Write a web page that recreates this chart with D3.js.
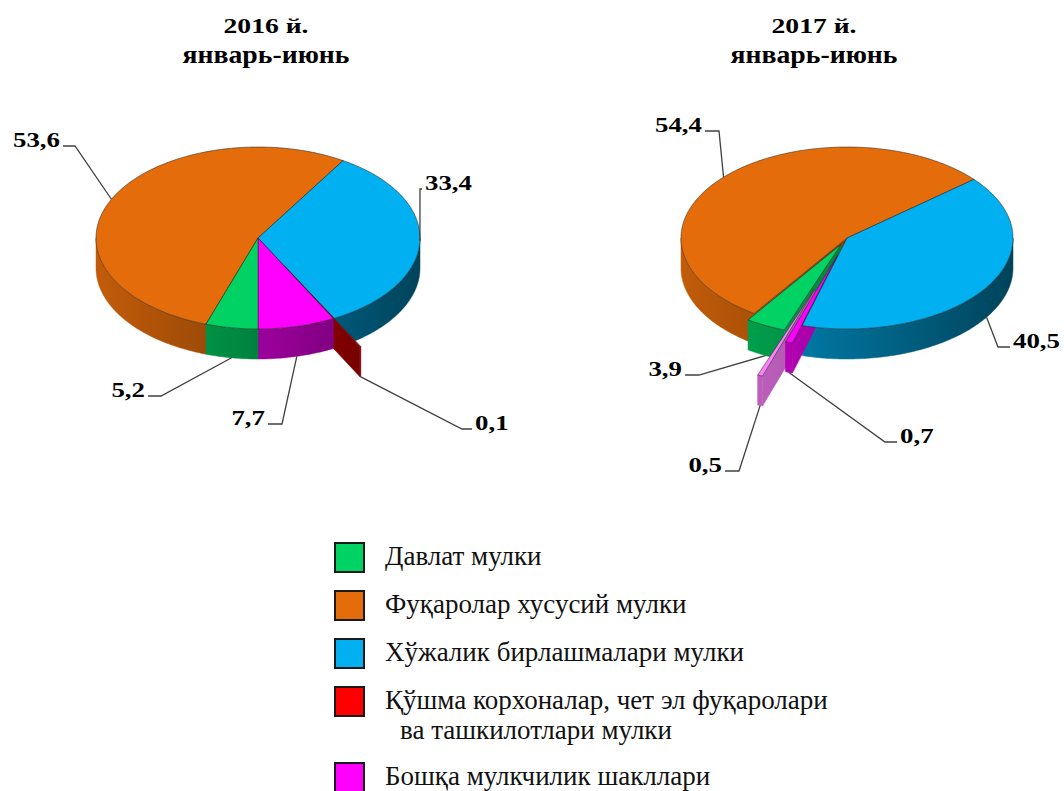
<!DOCTYPE html>
<html>
<head>
<meta charset="utf-8">
<script src="https://cdn.jsdelivr.net/npm/d3@7"></script>
<style>
  body { margin: 0; background: #fff; }
</style>
</head>
<body>
<div class="container"></div>
<script>
const WIDTH = 1064;
const HEIGHT = 791;
const FONT = "Liberation Serif";

// data
const categories = [
    "Давлат мулки",
    "Фуқаролар хусусий мулки",
    "Хўжалик бирлашмалари мулки",
    "Қўшма корхоналар, чет эл фуқаролари\nва ташкилотлари мулки",
    "Бошқа мулкчилик шакллари"
];
const values2016 = [5.2, 53.6, 33.4, 0.1, 7.7];
const values2017 = [3.9, 54.4, 40.5, 0.7, 0.5];
const years = ["2016 й.", "2017 й."];
const period = "январь-июнь";

const colors = ["#00d264", "#e46c0a", "#00b0f0", "#ff0000", "#ff00ff"];
// in the 2017 pie the two small slices came out in these shades
const colors2017 = ["#00d264", "#e46c0a", "#00b0f0", "#ff00ff", "#ff80ff"];

// pie layout: centre, radii, thickness, first slice angle, explode, label spots
const pies = [
    {
        values: values2016, colors: colors, title: years[0], titleX: 266,
        cx: 258, cy: 238, rx: 162, ry: 91, depth: 30, start: 180,
        explode: [0, 0, 0, 0.35, 0],
        labels: [[145, 397, "end", 13], [60, 147, "end", 12], [425, 190, "start", 2],
                 [475, 430, "start", 10], [265, 425, "end", 14]]
    },
    {
        values: values2017, colors: colors2017, title: years[1], titleX: 814,
        cx: 847, cy: 238, rx: 166, ry: 91, depth: 30, start: 200,
        explode: [0.08, 0, 0, 0.2, 0.6],
        labels: [[682, 376, "end", 14], [702, 132, "end", 14], [1013, 348, "start", 12],
                 [900, 443, "start", 12], [722, 472, "end", 14]]
    }
];

const svg = d3.select(".container")
    .append("svg")
    .attr("width", WIDTH)
    .attr("height", HEIGHT);

const defs = svg.append("defs");
const rad = function (d) { return d * Math.PI / 180; };
const deg = function (r) { return r * 180 / Math.PI; };
const fmt = function (v) { return String(v).replace(".", ","); };

function shade(c, f) {
    var k = d3.rgb(c);
    return d3.rgb(k.r * f, k.g * f, k.b * f).formatHex();
}

var line = d3.line();

pies.forEach(function (p, pi) {
    var arcs = d3.pie().sort(null)
        .startAngle(rad(p.start))
        .endAngle(rad(p.start + 360))(p.values);

    var pt = function (a, r, z, off) {
        return [p.cx + off[0] + r * p.rx * Math.sin(rad(a)),
                p.cy + off[1] - r * p.ry * Math.cos(rad(a)) + z];
    };
    var arcPts = function (a0, a1, z, off) {
        var n = Math.max(2, Math.ceil(Math.abs(a1 - a0)));
        return d3.range(n + 1).map(function (i) {
            return pt(a0 + (a1 - a0) * i / n, 1, z, off);
        });
    };

    var slices = arcs.map(function (d, i) {
        var a0 = deg(d.startAngle), a1 = deg(d.endAngle), mid = (a0 + a1) / 2;
        var e = p.explode[i];
        var off = [e * p.rx * Math.sin(rad(mid)), -e * p.ry * Math.cos(rad(mid))];
        var id = "sh" + pi + "_" + i;
        var grad = defs.append("linearGradient")
            .attr("id", id)
            .attr("gradientUnits", "userSpaceOnUse")
            .attr("x1", p.cx - p.rx).attr("x2", p.cx + p.rx)
            .attr("y1", 0).attr("y2", 0);
        grad.append("stop").attr("offset", 0).attr("stop-color", shade(p.colors[i], 0.85));
        grad.append("stop").attr("offset", 1).attr("stop-color", shade(p.colors[i], 0.38));
        return { i: i, v: d.data, a0: a0, a1: a1, mid: mid, off: off, fill: "url(#" + id + ")",
                 color: p.colors[i], key: -Math.cos(rad(mid)) };
    });

    var order = slices.slice().sort(function (a, b) { return a.key - b.key; });
    var walls = svg.append("g");
    var tops = svg.append("g");

    order.forEach(function (s) {
        var tip0 = pt(0, 0, 0, s.off), tip1 = pt(0, 0, p.depth, s.off);
        // side walls facing the viewer
        if (Math.sin(rad(s.a0)) < -1e-6) {
            walls.append("path")
                .attr("d", line([tip0, pt(s.a0, 1, 0, s.off), pt(s.a0, 1, p.depth, s.off), tip1]) + "Z")
                .attr("fill", s.fill).attr("stroke", s.fill).attr("stroke-width", 0.5);
        }
        if (Math.sin(rad(s.a1)) > 1e-6) {
            walls.append("path")
                .attr("d", line([tip0, pt(s.a1, 1, 0, s.off), pt(s.a1, 1, p.depth, s.off), tip1]) + "Z")
                .attr("fill", s.fill).attr("stroke", s.fill).attr("stroke-width", 0.5);
        }
        // outer rim, front half only
        [-360, 0, 360].forEach(function (k) {
            var lo = Math.max(s.a0, 90 + k), hi = Math.min(s.a1, 270 + k);
            if (hi - lo > 1e-6) {
                var pts = arcPts(lo, hi, 0, s.off).concat(arcPts(hi, lo, p.depth, s.off));
                walls.append("path")
                    .attr("d", line(pts) + "Z")
                    .attr("fill", s.fill).attr("stroke", s.fill).attr("stroke-width", 0.5);
            }
        });
        // top face
        tops.append("path")
            .attr("d", line([tip0].concat(arcPts(s.a0, s.a1, 0, s.off))) + "Z")
            .attr("fill", s.color)
            .attr("stroke", "#222")
            .attr("stroke-opacity", 0.75)
            .attr("stroke-width", 0.7)
            .attr("stroke-linejoin", "round");
    });

    // value labels with leader lines
    var lab = svg.append("g");
    slices.forEach(function (s) {
        var L = p.labels[s.i];
        var front = s.key > 0.3;
        var anchor = pt(s.mid, 1, front ? p.depth : 0, s.off);
        var dir = L[2] === "end" ? 1 : -1;
        var p0 = [L[0] + dir * 3, L[1] - 1];
        var p1 = [p0[0] + dir * L[3], p0[1]];
        lab.append("path")
            .attr("d", line([p0, p1, anchor]))
            .attr("fill", "none")
            .attr("stroke", "#404040")
            .attr("stroke-width", 1.3);
        var t = lab.append("text")
            .attr("x", L[0]).attr("y", L[1])
            .attr("text-anchor", L[2])
            .attr("font-family", FONT)
            .attr("font-size", 22)
            .attr("font-weight", "bold")
            .text(fmt(s.v));
        var w = t.node().getComputedTextLength();
        t.attr("textLength", w * 1.22).attr("lengthAdjust", "spacingAndGlyphs");
    });

    // title
    svg.append("text")
        .attr("x", p.titleX).attr("y", 33)
        .attr("text-anchor", "middle")
        .attr("font-family", FONT)
        .attr("font-size", 22).attr("font-weight", "bold")
        .attr("textLength", 85).attr("lengthAdjust", "spacingAndGlyphs")
        .text(p.title);
    svg.append("text")
        .attr("x", p.titleX).attr("y", 63)
        .attr("text-anchor", "middle")
        .attr("font-family", FONT)
        .attr("font-size", 26).attr("font-weight", "bold")
        .attr("textLength", 167).attr("lengthAdjust", "spacingAndGlyphs")
        .text(period);
});

// legend
var legend = svg.append("g");
var ly = 543;
categories.forEach(function (c, i) {
    var lines = c.split("\n");
    legend.append("rect")
        .attr("x", 335).attr("y", ly)
        .attr("width", 29).attr("height", 29)
        .attr("fill", colors[i])
        .attr("stroke", "#1a1a1a")
        .attr("stroke-width", 2);
    lines.forEach(function (l, j) {
        legend.append("text")
            .attr("x", j === 0 ? 385 : 400)
            .attr("y", ly + 22 + j * 30)
            .attr("font-family", FONT)
            .attr("font-size", 27)
            .attr("fill", "#111")
            .text(l);
    });
    ly += 48 + (lines.length - 1) * 28;
});
</script>
</body>
</html>
